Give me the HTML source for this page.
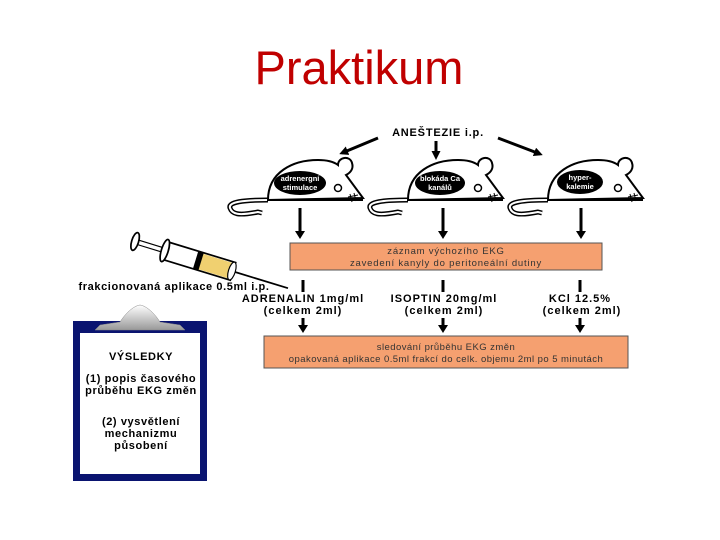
<!DOCTYPE html>
<html><head><meta charset="utf-8"><style>
html,body{margin:0;padding:0;background:#fff;}
svg{display:block;}
text{font-family:"Liberation Sans","DejaVu Sans",sans-serif;}
</style></head><body>
<svg width="720" height="540" viewBox="0 0 720 540" xmlns="http://www.w3.org/2000/svg">
<defs>
<marker id="ah" markerWidth="9" markerHeight="9" refX="6" refY="4.5" orient="auto" markerUnits="userSpaceOnUse">
<path d="M0,0 L9,4.5 L0,9 Z" fill="#000"/></marker>
<linearGradient id="clip" x1="0" y1="0" x2="0" y2="1"><stop offset="0" stop-color="#fff"/><stop offset="1" stop-color="#999"/></linearGradient>
<g id="mouse">
<path d="M0,0 C-25,0 -40,2 -38,8 C-36,14 -30,16 -10,12 L-6,13" fill="none" stroke="#000" stroke-width="5"/>
<path d="M0,0 C-25,0 -40,2 -38,8 C-36,14 -30,16 -10,12 L-6,13" fill="none" stroke="#fff" stroke-width="2"/>
<path d="M0,0 C0,-28 25,-40 50,-40 C60,-40 66,-38 70,-35 C70,-43 82,-45 84,-37 C86,-31 82,-27 78,-25 L95,-2 L0,0 Z" fill="#fff" stroke="#000" stroke-width="2"/>
<line x1="0" y1="0" x2="95" y2="0" stroke="#000" stroke-width="2"/>
<circle cx="70" cy="-12" r="3.5" fill="#fff" stroke="#000" stroke-width="1.5"/>
<path d="M82,-6 l2,8 M86,-7 l2,8 M80,-3 l10,-2" stroke="#000" stroke-width="1"/>
</g>
</defs>

<text x="359" y="84" text-anchor="middle" font-size="47" fill="#c00000">Praktikum</text>

<text x="438" y="136" text-anchor="middle" font-size="11" font-weight="bold" letter-spacing="0.8">ANEŠTEZIE i.p.</text>
<line x1="378" y1="138" x2="342" y2="153" stroke="#000" stroke-width="3" marker-end="url(#ah)"/>
<line x1="436" y1="141" x2="436" y2="157" stroke="#000" stroke-width="3" marker-end="url(#ah)"/>
<line x1="498" y1="138" x2="540" y2="154" stroke="#000" stroke-width="3" marker-end="url(#ah)"/>

<use href="#mouse" x="268" y="200"/>
<use href="#mouse" x="408" y="200"/>
<use href="#mouse" x="548" y="200"/>
<ellipse cx="300" cy="183" rx="26" ry="12" fill="#000"/>
<ellipse cx="440" cy="183" rx="25" ry="12" fill="#000"/>
<ellipse cx="580" cy="182" rx="23" ry="12" fill="#000"/>
<g fill="#fff" font-size="7.5" font-weight="bold" text-anchor="middle">
<text x="300" y="181">adrenergní</text><text x="300" y="190">stimulace</text>
<text x="440" y="181">blokáda Ca</text><text x="440" y="190">kanálů</text>
<text x="580" y="180">hyper-</text><text x="580" y="189">kalemie</text>
</g>

<g stroke="#000" stroke-width="3">
<line x1="300" y1="208" x2="300" y2="232"/><line x1="443" y1="208" x2="443" y2="232"/><line x1="581" y1="208" x2="581" y2="232"/>
</g>
<g fill="#000"><path d="M295,231 h10 l-5,8 z"/><path d="M438,231 h10 l-5,8 z"/><path d="M576,231 h10 l-5,8 z"/></g>

<rect x="290" y="243" width="312" height="27" fill="#f5a070" stroke="#555" stroke-width="1"/>
<g font-size="9.5" fill="#333" text-anchor="middle" letter-spacing="0.8">
<text x="446" y="254">záznam výchozího EKG</text>
<text x="446" y="266">zavedení kanyly do peritoneální dutiny</text>
</g>

<!-- syringe -->
<g transform="translate(-30,-40) scale(1.15) rotate(17 200 262)">
<line x1="230" y1="262" x2="280" y2="262" stroke="#000" stroke-width="1.5"/>
<rect x="168" y="254" width="62" height="16" fill="#fff" stroke="#000" stroke-width="1.5"/>
<rect x="198" y="255" width="32" height="14" fill="#f0d070"/>
<rect x="196" y="254" width="5" height="16" fill="#000"/>
<ellipse cx="229" cy="262" rx="3" ry="8" fill="#fff" stroke="#000"/>
<line x1="142" y1="260" x2="170" y2="260" stroke="#000"/><line x1="142" y1="264" x2="170" y2="264" stroke="#000"/>
<ellipse cx="141" cy="262" rx="3" ry="8" fill="#fff" stroke="#000" stroke-width="1.5"/>
<ellipse cx="168" cy="262" rx="3" ry="10" fill="#fff" stroke="#000" stroke-width="1.5"/>
</g>
<text x="174" y="290" text-anchor="middle" font-size="11" font-weight="bold" letter-spacing="0.6">frakcionovaná aplikace 0.5ml i.p.</text>

<g stroke="#000" stroke-width="3">
<line x1="303" y1="280" x2="303" y2="292"/><line x1="443" y1="280" x2="443" y2="292"/><line x1="580" y1="280" x2="580" y2="292"/>
<line x1="303" y1="318" x2="303" y2="326"/><line x1="443" y1="318" x2="443" y2="326"/><line x1="580" y1="318" x2="580" y2="326"/>
</g>
<g fill="#000"><path d="M298,325 h10 l-5,8 z"/><path d="M438,325 h10 l-5,8 z"/><path d="M575,325 h10 l-5,8 z"/></g>
<g font-size="11" font-weight="bold" text-anchor="middle" letter-spacing="1">
<text x="303" y="302">ADRENALIN 1mg/ml</text><text x="303" y="314">(celkem 2ml)</text>
<text x="444" y="302">ISOPTIN 20mg/ml</text><text x="444" y="314">(celkem 2ml)</text>
<text x="580" y="302">KCl 12.5%</text><text x="582" y="314">(celkem 2ml)</text>
</g>

<rect x="264" y="336" width="364" height="32" fill="#f5a070" stroke="#555" stroke-width="1"/>
<g font-size="9.5" fill="#333" text-anchor="middle" letter-spacing="0.45">
<text x="446" y="350">sledování průběhu EKG změn</text>
<text x="446" y="362">opakovaná aplikace 0.5ml frakcí do celk. objemu 2ml po 5 minutách</text>
</g>

<!-- clipboard -->
<rect x="73" y="321" width="134" height="160" fill="#0a1470"/>
<rect x="80" y="333" width="120" height="141" fill="#fff"/>
<path d="M95,330 L100,325 L120,322 C125,314 133,306 140,305 C147,306 155,314 160,322 L180,325 L185,330 Z" fill="url(#clip)" stroke="#888" stroke-width="0.5"/>
<g font-size="11" font-weight="bold" text-anchor="middle" letter-spacing="0.6">
<text x="141" y="360">VÝSLEDKY</text>
<text x="141" y="382">(1) popis časového</text><text x="141" y="394">průběhu EKG změn</text>
<text x="141" y="425">(2) vysvětlení</text><text x="141" y="437">mechanizmu</text><text x="141" y="449">působení</text>
</g>
</svg>
</body></html>
